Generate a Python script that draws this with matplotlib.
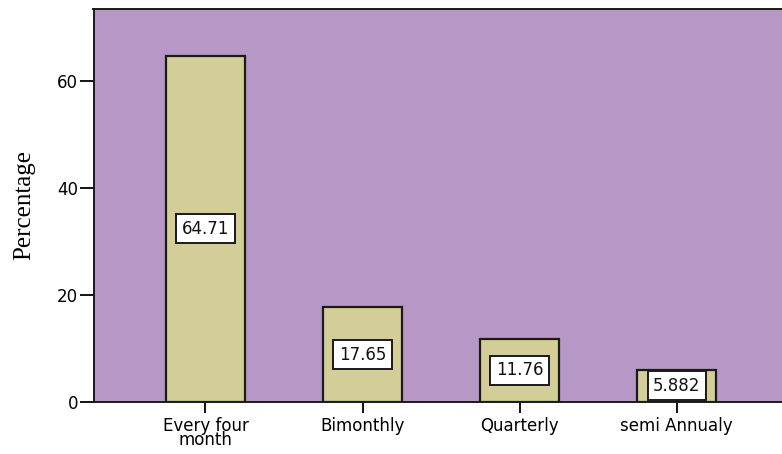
import matplotlib.pyplot as plt

categories = ["Every four\nmonth", "Bimonthly", "Quarterly", "semi Annualy"]
percent = [64.71, 17.65, 11.76, 5.882]
value_labels = ["64.71", "17.65", "11.76", "5.882"]

fig = plt.figure(figsize=(7.82, 4.54), dpi=100)
ax = fig.add_axes([93.5 / 782, 52.3 / 454, 1 - 93.5 / 782 + 0.01, 392.4 / 454])
ax.set_facecolor("#b797c6")

x = range(len(categories))
ax.bar(x, percent, width=0.5, color="#d3ce98", edgecolor="#1a1a1a", linewidth=1.6, zorder=2)

# value boxes sit halfway up each bar
for xi, v, lab in zip(x, percent, value_labels):
    ax.text(xi, v / 2, lab, ha="center", va="center", fontsize=12,
            family="DejaVu Sans", color="#111111", zorder=3,
            bbox=dict(boxstyle="square,pad=0.33", fc="white", ec="#1a1a1a", lw=1.4))

ax.set_xlim(-0.713, 3.72)
ax.set_ylim(0, 73.4)
ax.set_yticks([0, 20, 40, 60])
ax.set_xticks(list(x))
ax.set_xticklabels(categories, family="DejaVu Sans", fontsize=12, linespacing=0.75)
ax.tick_params(axis="y", direction="out", length=10, width=1.3, labelsize=12, pad=1)
ax.tick_params(axis="x", direction="out", length=8, width=1.3, pad=3)
for t in ax.get_yticklabels():
    t.set_family("DejaVu Sans")

for s in ax.spines.values():
    s.set_color("#1a1a1a")
    s.set_linewidth(1.4)

ax.set_ylabel("Percentage", family="Liberation Serif", fontsize=18, labelpad=16)

fig.savefig("out.png", dpi=100)
